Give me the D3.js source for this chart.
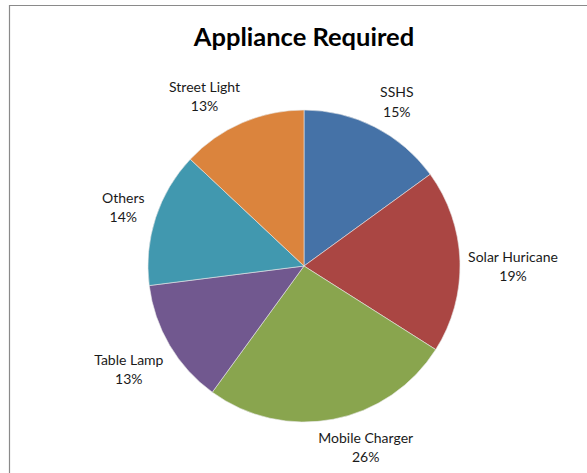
<!DOCTYPE html>
<html>
<head>
<meta charset="utf-8">
<script src="https://cdn.jsdelivr.net/npm/d3@7"></script>
<style>
  html, body { margin: 0; padding: 0; background: #fff; }
  svg { display: block; }
</style>
</head>
<body>
<svg id="chart" width="587" height="473"></svg>
<script>
const categories = ["SSHS", "Solar Huricane", "Mobile Charger", "Table Lamp", "Others", "Street Light"];
const values = [15, 19, 26, 13, 14, 13];
const colors = ["#4572A7", "#AA4643", "#89A54E", "#71588F", "#4198AF", "#DB843D"];
const title = "Appliance Required";

const W = 587, H = 473;
const cx = 304, cy = 266, R = 156;
const svg = d3.select("#chart");

// frame
svg.append("path")
  .attr("d", `M9.5,${H} L9.5,5.5 L${W},5.5`)
  .attr("fill", "none").attr("stroke", "#8a8a8a").attr("stroke-width", 1.2);

svg.append("text")
  .attr("x", cx).attr("y", 46)
  .attr("text-anchor", "middle")
  .style("font-family", "Lato, 'Open Sans', sans-serif")
  .style("font-weight", "bold").style("font-size", "25.5px")
  .attr("fill", "#000").text(title);

const data = categories.map((c, i) => ({ name: c, value: values[i], color: colors[i] }));
const total = d3.sum(values);
const pie = d3.pie().value(d => d.value).sort(null);
const arc = d3.arc().innerRadius(0).outerRadius(R);
const arcs = pie(data);

const g = svg.append("g").attr("transform", `translate(${cx},${cy})`);
g.selectAll("path.slice").data(arcs).enter().append("path")
  .attr("class", "slice")
  .attr("d", arc)
  .attr("fill", d => d.data.color)
  .attr("stroke", "#e8e8e8").attr("stroke-width", 0.6);

// layout nudges (degrees) imitating the spreadsheet's best-fit label placement
const labelNudge = { "SSHS": 2.5, "Solar Huricane": 2, "Mobile Charger": -8, "Street Light": -7 };

const fmt = d3.format(".0%");
const lineH = 19.5;
const FS = "14px";
const labels = g.selectAll("g.lab").data(arcs).enter().append("g").attr("class", "lab");
labels.each(function(d) {
  const el = d3.select(this);
  const t1 = el.append("text").attr("text-anchor", "middle")
    .style("font-family", "Lato, 'Open Sans', sans-serif").style("font-size", FS)
    .attr("fill", "#1a1a1a").attr("y", -lineH / 2 + 5).text(d.data.name);
  const t2 = el.append("text").attr("text-anchor", "middle")
    .style("font-family", "Lato, 'Open Sans', sans-serif").style("font-size", FS)
    .attr("fill", "#1a1a1a").attr("y", lineH / 2 + 5).text(fmt(d.data.value / total));
  const w = Math.max(t1.node().getComputedTextLength(), t2.node().getComputedTextLength()) + 4;
  const h = lineH * 2;
  const a = (d.startAngle + d.endAngle) / 2 + (labelNudge[d.data.name] || 0) * Math.PI / 180;
  const dx = Math.sin(a), dy = -Math.cos(a);
  let t = R;
  for (; t < R + 200; t += 0.5) {
    const x = t * dx, y = t * dy;
    const nx = Math.max(x - w / 2, Math.min(0, x + w / 2));
    const ny = Math.max(y - h / 2, Math.min(0, y + h / 2));
    if (Math.hypot(nx, ny) >= R + 6) break;
  }
  el.attr("transform", `translate(${t * dx},${t * dy})`);
});
</script>
</body>
</html>
